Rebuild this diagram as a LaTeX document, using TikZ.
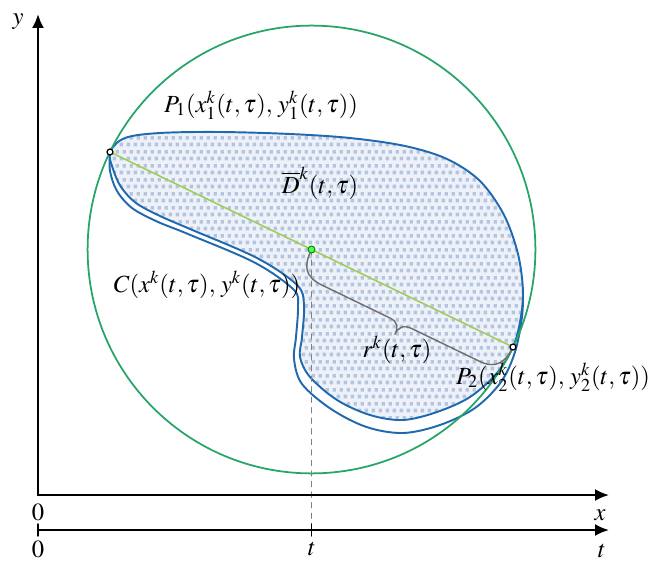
\documentclass[tikz,border=0pt]{standalone}
\usepackage{mathptmx}
\usetikzlibrary{arrows.meta,patterns.meta}

\definecolor{circgreen}{RGB}{38,165,105}
\definecolor{chordgreen}{RGB}{160,205,90}
\definecolor{curveblue}{RGB}{32,105,175}
\definecolor{regionbase}{RGB}{238,242,248}
\definecolor{dotblue}{RGB}{180,197,226}
\definecolor{bracegray}{RGB}{110,110,110}

\tikzdeclarepattern{
  name=squaredots,
  type=colored,
  bounding box={(0,0) and (4pt,8pt)},
  tile size={(4pt,8pt)},
  code={
    \fill[dotblue] (0.4pt,0.4pt) rectangle (2.6pt,2.6pt);
    \fill[dotblue] (2.4pt,4.4pt) rectangle (4.6pt,6.6pt);
  }
}

\tikzset{
  axis/.style={line width=1.2pt,-{Latex[length=2.8mm,width=2.4mm]}},
  boundary/.style={line width=1.1pt,color=curveblue},
  lbl/.style={font=\fontsize{14}{16}\selectfont,inner sep=0pt},
}

\begin{document}
\begin{tikzpicture}[line cap=round,line join=round]
  \useasboundingbox (0,0) rectangle (13.14,11.34);
  \coordinate (O) at (0.76,1.44);
  \coordinate (xend) at (12.18,1.44);
  \coordinate (yend) at (0.76,11.06);
  \coordinate (tO) at (0.76,0.74);
  \coordinate (tend) at (12.18,0.74);
  \coordinate (T) at (6.23,0.74);
  \coordinate (P1) at (2.20,8.30);
  \coordinate (P2) at (10.26,4.40);
  \coordinate (M) at (6.23,6.35);
  % region D^k
  \draw[boundary,preaction={fill=regionbase},pattern=squaredots]
    plot[smooth cycle,tension=0.55] coordinates {
    (2.20,8.30) (2.50,8.58) (3.20,8.68) (4.40,8.70) (5.80,8.66) (7.00,8.58)
    (8.10,8.42) (8.94,8.16) (9.60,7.72) (10.08,7.04) (10.36,6.26) (10.46,5.50)
    (10.40,4.90) (10.26,4.40) (9.94,3.88) (9.40,3.40) (8.74,3.10) (8.06,2.94)
    (7.40,3.04) (6.74,3.34) (6.20,3.80) (6.00,4.20) (6.04,4.60) (6.08,5.24)
    (5.94,5.64) (5.14,6.18) (3.80,6.76) (3.20,7.02) (2.72,7.28) (2.42,7.60)
    (2.26,7.96)};
  % outer curve C
  \draw[boundary] plot[smooth,tension=0.55] coordinates {
    (2.20,8.30) (2.20,7.92) (2.34,7.52) (2.64,7.18) (3.14,6.91) (3.76,6.66)
    (5.09,6.09) (5.87,5.55) (5.96,5.22) (5.92,4.60) (5.88,4.16) (6.04,3.66)
    (6.62,3.16) (7.33,2.80) (8.06,2.68) (8.80,2.84) (9.50,3.18) (10.02,3.70)
    (10.30,4.30) (10.44,5.00) (10.46,5.50)};
  % circle through P1, P2
  \draw[line width=1pt,circgreen] (M) circle (4.478);
  \draw[line width=0.9pt,chordgreen] (P1) -- (P2);
  % brace r^k
  \begin{scope}[shift={(M)},rotate=-25.82]
    \draw[line width=0.8pt,bracegray] (0,0) .. controls (0,-0.35) and (0.1,-0.55) .. (0.5,-0.55)
      -- (2.0,-0.55) .. controls (2.2,-0.55) and (2.24,-0.65) .. (2.24,-0.8)
      .. controls (2.24,-0.65) and (2.3,-0.55) .. (2.5,-0.55)
      -- (4.0,-0.55) .. controls (4.35,-0.55) and (4.478,-0.35) .. (4.478,0);
  \end{scope}
  \draw[line width=0.6pt,gray,dashed] (M) -- (T);
  % axes
  \draw[axis] (O) -- (xend);
  \draw[axis] (O) -- (yend);
  \draw[axis] (tO) -- (tend);
  \draw[line width=0.8pt] (0.76,0.62) -- (0.76,0.86);
  \draw[line width=0.8pt] (6.23,0.62) -- (6.23,0.86);
  % points
  \draw[line width=0.7pt,fill=white] (P1) circle (0.06);
  \draw[line width=0.7pt,fill=white] (P2) circle (0.06);
  \draw[line width=0.5pt,green!50!black,fill=green!70!white] (M) circle (0.07);
  % labels
  \node[lbl] (lp1) at (5.22,9.24) {$P_1(x_1^k(t,\tau),\, y_1^k(t,\tau))$};
  \node[lbl] (ld) at (6.40,7.68) {$\overline{D}^k(t,\tau)$};
  \node[lbl] (lc) at (4.14,5.64) {$C(x^k(t,\tau),\, y^k(t,\tau))$};
  \node[lbl] (lr) at (7.94,4.34) {$r^k(t,\tau)$};
  \node[lbl] (lp2) at (11.06,3.80) {$P_2(x_2^k(t,\tau),\, y_2^k(t,\tau))$};
  \node[lbl] (ly) at (0.36,10.90) {$y$};
  \node[lbl] (lx) at (12.00,1.04) {$x$};
  \node[lbl] (l0x) at (0.76,1.10) {$0$};
  \node[lbl] (l0t) at (0.76,0.36) {$0$};
  \node[lbl] (lt) at (6.24,0.36) {$t$};
  \node[lbl] (ltend) at (12.04,0.32) {$t$};
\end{tikzpicture}
\end{document}
